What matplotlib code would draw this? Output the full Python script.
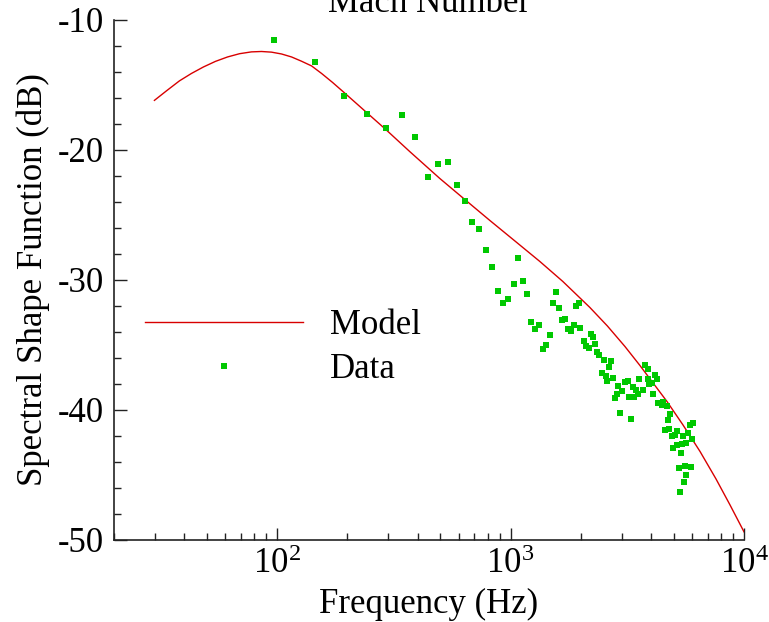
import numpy as np
import matplotlib
matplotlib.use("Agg")
import matplotlib.pyplot as plt
from matplotlib.ticker import MultipleLocator, LogLocator, LogFormatterMathtext, NullFormatter


# --- Modello ---
model_freq = [29.85, 33.6, 38.2, 43.0, 48.4, 54.5, 61.4, 69.1, 77.7, 85.8,
              94.7, 104.5, 115.4, 127.4, 140.6, 155.2, 172.9, 194.7, 217.0, 244.3,
              291.9, 369.8, 497.4, 636.7, 814.7, 1063, 1335, 1675, 2187, 2598,
              3090, 3582, 4677, 5475, 6477, 7586, 8710, 10000]
model_db = [-16.19, -15.46, -14.69, -14.12, -13.62, -13.19, -12.85, -12.6, -12.46, -12.43,
            -12.48, -12.62, -12.85, -13.18, -13.54, -14.12, -14.81, -15.62, -16.37, -17.19,
            -18.42, -20.12, -22.19, -23.81, -25.42, -27.12, -28.58, -30.12, -32.12, -33.54,
            -35.12, -36.58, -39.35, -41.15, -43.19, -45.31, -47.31, -49.38]

# --- Dati misurati ---
data_freq = [96.6, 146, 194.5, 244, 292, 342, 389, 442, 488, 538,
             589, 637, 682, 731, 783, 831, 881, 926, 973, 1032,
             1074, 1129, 1175, 1222, 1271, 1322, 1375, 1416, 1473, 1517,
             1563, 1610, 1659, 1709, 1759, 1812, 1866, 1905, 1962, 1981,
             2061, 2102, 2164, 2207, 2252, 2297, 2343, 2390, 2462, 2512,
             2562, 2587, 2638, 2691, 2745, 2800, 2856, 2884, 2942, 3001,
             3091, 3184, 3215, 3280, 3345, 3378, 3446, 3515, 3550, 3681,
             3767, 3881, 3886, 3927, 4019, 4060, 4153, 4224, 4293, 4437,
             4508, 4664, 4736, 4814, 4585, 4783, 4897, 5059, 5173, 5490,
             5738, 5867, 6024, 5967, 5642, 5404, 5173, 4977, 5370, 5265,
             5580, 5908, 5642, 5530, 5313]
data_db = [-11.54, -13.21, -15.82, -17.21, -18.28, -17.31, -18.98, -22.05, -21.08, -20.92,
           -22.67, -23.9, -25.52, -26.05, -27.67, -28.98, -30.82, -31.75, -31.44, -30.28,
           -28.28, -30.05, -31.05, -33.21, -33.75, -33.44, -35.28, -34.98, -34.21, -31.75,
           -30.9, -32.13, -33.05, -32.98, -33.75, -33.9, -33.44, -31.98, -31.75, -33.67,
           -34.67, -35.05, -35.23, -34.13, -34.36, -34.9, -35.52, -35.75, -37.13, -36.13,
           -37.36, -37.75, -36.67, -36.21, -37.52, -39.05, -38.77, -38.13, -40.21, -38.52,
           -37.82, -37.75, -39.02, -40.67, -38.21, -39.02, -38.46, -38.77, -37.59, -38.46,
           -36.54, -36.85, -37.64, -38.02, -37.95, -38.79, -37.31, -37.62, -39.48, -39.62,
           -39.36, -39.69, -40.77, -40.31, -41.54, -41.48, -42.0, -41.92, -41.62, -42.0,
           -41.79, -41.15, -40.98, -42.23, -42.52, -42.64, -42.69, -42.9, -43.28, -44.44,
           -44.31, -44.36, -45.0, -45.52, -46.31]


def main():
    plt.rcParams["font.family"] = ["Liberation Serif", "DejaVu Serif"]
    plt.rcParams["mathtext.fontset"] = "custom"
    plt.rcParams["mathtext.rm"] = "Liberation Serif"
    plt.rcParams["axes.unicode_minus"] = False

    fig = plt.figure(figsize=(7.69, 6.22), dpi=100)
    ax = fig.add_axes([0.148, 0.132, 0.8195, 0.836])

    ax.plot(model_freq, model_db, '-', color='#d80000', lw=1.0, label='Model')
    ax.plot(data_freq, data_db, 's', color='#00c800', ms=5, mew=0, label='Data')

    ax.set_xscale('log')
    ax.set_xlim(20, 1e4)
    ax.set_ylim(-50, -10)

    ax.xaxis.set_major_locator(LogLocator(base=10))
    ax.xaxis.set_major_formatter(LogFormatterMathtext())
    ax.xaxis.set_minor_locator(LogLocator(base=10, subs=np.arange(2, 10)))
    ax.xaxis.set_minor_formatter(NullFormatter())
    ax.yaxis.set_major_locator(MultipleLocator(10))
    ax.yaxis.set_minor_locator(MultipleLocator(2))

    for side in ('top', 'right'):
        ax.spines[side].set_visible(False)
    for side in ('left', 'bottom'):
        ax.spines[side].set_linewidth(1.2)
        ax.spines[side].set_color('#222222')

    ax.tick_params(which='both', direction='in', top=False, right=False,
                   labelsize=25, color='#222222')
    ax.tick_params(which='major', length=9, width=1.0)
    ax.tick_params(which='minor', length=5, width=1.0)
    ax.tick_params(axis='x', which='major', pad=6)
    ax.tick_params(axis='y', which='major', pad=7)

    ax.set_xlabel('Frequency (Hz)', fontsize=25, labelpad=5)
    ax.set_ylabel('Spectral Shape Function (dB)', fontsize=25, labelpad=6)
    ax.set_title('Mach Number', fontsize=25, pad=0)

    ax.legend(loc='upper left', bbox_to_anchor=(145 / 769, 1 - 309 / 622),
              bbox_transform=fig.transFigure, frameon=False, fontsize=25,
              handlelength=4.55, handletextpad=0.78, labelspacing=0.33,
              borderpad=0, borderaxespad=0, numpoints=1)

    fig.savefig('out.png', dpi=100)


if __name__ == "__main__":
    main()
